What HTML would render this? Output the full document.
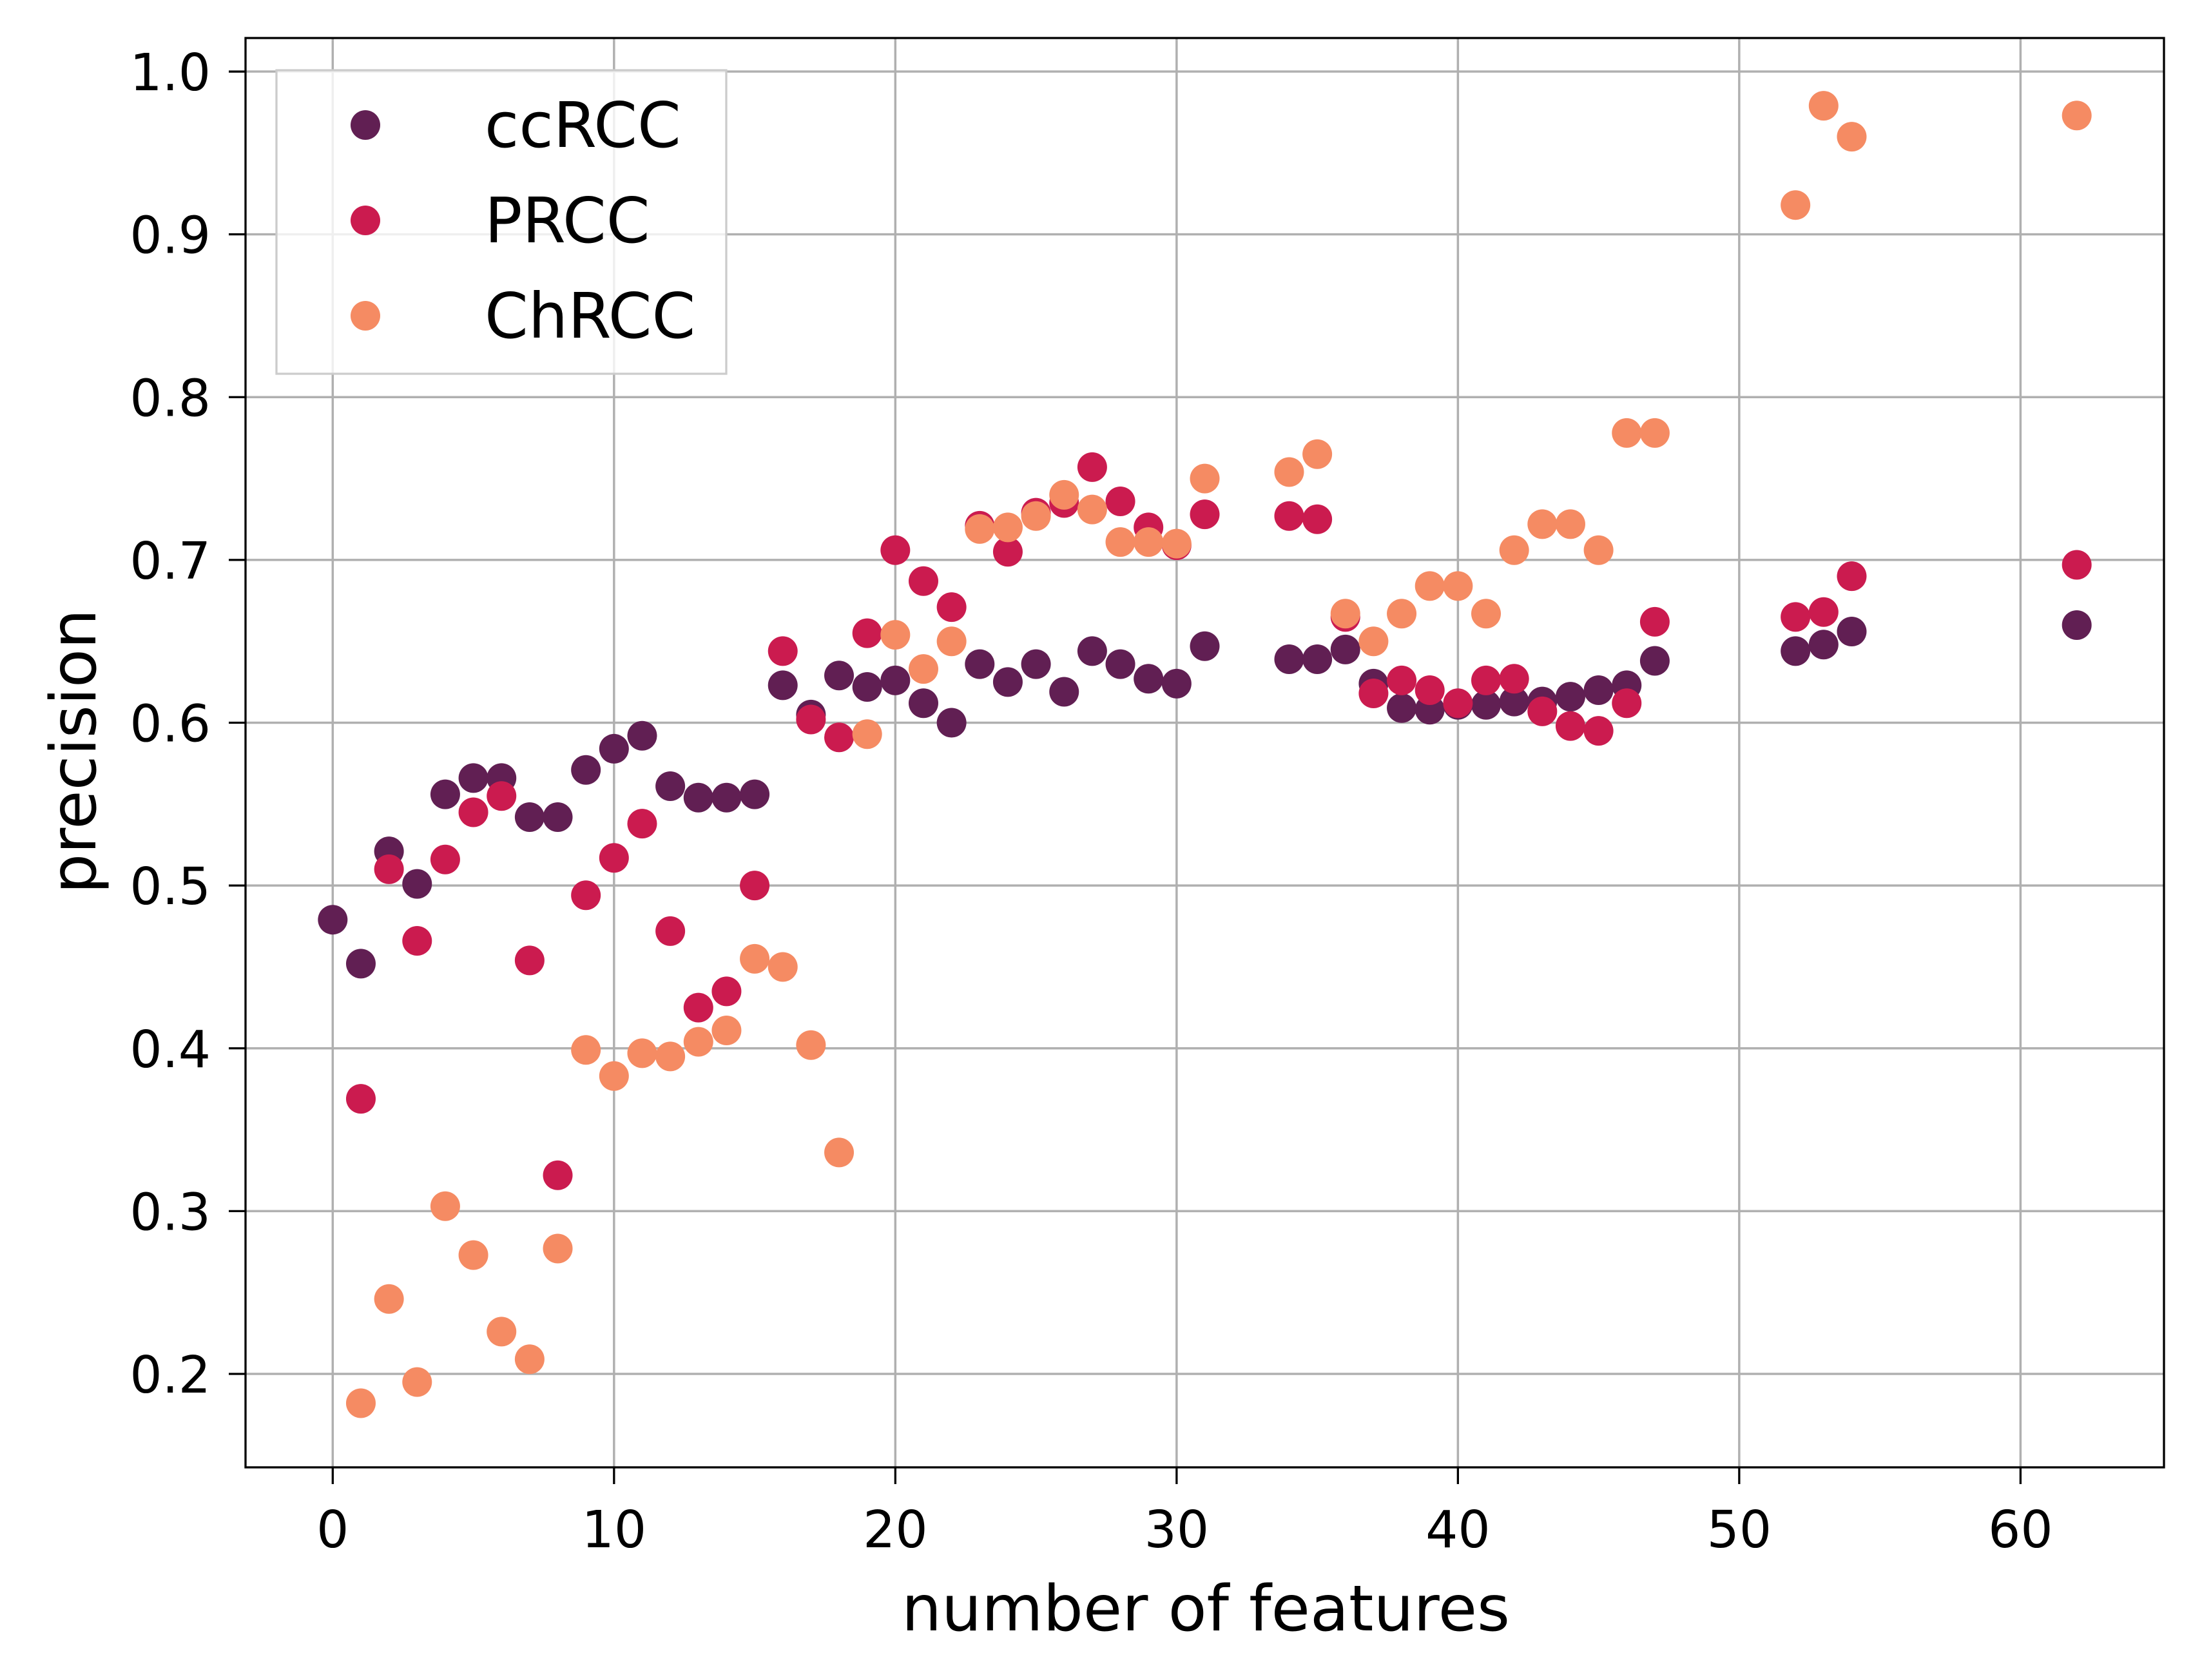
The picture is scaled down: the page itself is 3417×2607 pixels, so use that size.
<!DOCTYPE html>
<html><head><meta charset="utf-8"><style>
html,body{margin:0;padding:0;background:#fff}
svg{display:block;font-family:"DejaVu Sans","Liberation Sans",sans-serif}
</style></head><body>
<svg id="chart" width="3417" height="2607" viewBox="0 0 3417 2607" xmlns="http://www.w3.org/2000/svg">
<rect width="3417" height="2607" fill="#fff"/>
<g id="grid"></g>
<g id="marks"></g>
<rect x="381" y="59" width="2977" height="2218" fill="none" stroke="#000" stroke-width="3.3"/>
<g id="ticks"></g>
<text x="1871" y="2530" font-size="98" text-anchor="middle">number of features</text>
<text transform="translate(148,1166) rotate(-90)" font-size="98" text-anchor="middle">precision</text>
<g>
<rect x="429" y="109" width="698" height="471" fill="#fff" fill-opacity="0.8" stroke="#ccc" stroke-width="3.3"/>
<circle cx="567" cy="194" r="23" fill="#611f53"/>
<text x="752" y="228" font-size="97">ccRCC</text>
<circle cx="567" cy="342" r="23" fill="#cb1b4f"/>
<text x="752" y="376" font-size="97">PRCC</text>
<circle cx="567" cy="490" r="23" fill="#f58b63"/>
<text x="752" y="524" font-size="97">ChRCC</text>
</g>
</svg>
<script>
const xTicks=[0,10,20,30,40,50,60];
const yTicks=[0.2,0.3,0.4,0.5,0.6,0.7,0.8,0.9,1.0];
const yTickLabels=["0.2","0.3","0.4","0.5","0.6","0.7","0.8","0.9","1.0"];
const ccX=[0,1,2,3,4,5,6,7,8,9,10,11,12,13,14,15,16,17,18,19,20,21,22,23,24,25,26,27,28,29,30,31,34,35,36,37,38,39,40,41,42,43,44,45,46,47,52,53,54,62];
const ccY=[0.479,0.452,0.521,0.501,0.556,0.566,0.566,0.542,0.542,0.571,0.584,0.592,0.561,0.554,0.554,0.556,0.623,0.605,0.629,0.622,0.626,0.612,0.600,0.636,0.625,0.636,0.619,0.644,0.636,0.627,0.624,0.647,0.639,0.639,0.645,0.624,0.609,0.608,0.611,0.611,0.613,0.613,0.616,0.620,0.623,0.638,0.644,0.648,0.656,0.660];
const prX=[1,2,3,4,5,6,7,8,9,10,11,12,13,14,15,16,17,18,19,20,21,22,23,24,25,26,27,28,29,30,31,34,35,36,37,38,39,40,41,42,43,44,45,46,47,52,53,54,62];
const prY=[0.369,0.510,0.466,0.516,0.545,0.555,0.454,0.322,0.494,0.517,0.538,0.472,0.425,0.435,0.500,0.644,0.602,0.591,0.655,0.706,0.687,0.671,0.721,0.705,0.729,0.735,0.757,0.736,0.720,0.709,0.728,0.727,0.725,0.665,0.618,0.626,0.620,0.612,0.626,0.627,0.607,0.598,0.595,0.612,0.662,0.665,0.668,0.690,0.697];
const chX=[1,2,3,4,5,6,7,8,9,10,11,12,13,14,15,16,17,18,19,20,21,22,23,24,25,26,27,28,29,30,31,34,35,36,37,38,39,40,41,42,43,44,45,46,47,52,53,54,62];
const chY=[0.182,0.246,0.195,0.303,0.273,0.226,0.209,0.277,0.399,0.383,0.397,0.395,0.404,0.411,0.455,0.450,0.402,0.336,0.593,0.654,0.633,0.650,0.719,0.720,0.727,0.740,0.731,0.711,0.711,0.710,0.750,0.754,0.765,0.667,0.650,0.667,0.684,0.684,0.667,0.706,0.722,0.722,0.706,0.778,0.778,0.918,0.979,0.960,0.973];

const L=381,R=3358,T=59,B=2277,xmin=-3.1,xmax=65.1,ymin=0.1426,ymax=1.0206;
const sx=v=>L+(v-xmin)/(xmax-xmin)*(R-L);
const sy=v=>B-(v-ymin)/(ymax-ymin)*(B-T);
const NS="http://www.w3.org/2000/svg";
function mk(tag,parent,attrs){const e=document.createElementNS(NS,tag);for(const k in attrs)e.setAttribute(k,attrs[k]);parent.appendChild(e);return e;}
const grid=document.getElementById('grid'),ticks=document.getElementById('ticks'),marks=document.getElementById('marks');
xTicks.forEach(t=>{
  const x=sx(t);
  const g=mk('line',grid,{x1:x,x2:x,y1:T,y2:B,stroke:'#b0b0b0','stroke-width':3.5});
  
  
  const tk=mk('line',ticks,{x1:x,x2:x,y1:B,y2:B+26,stroke:'#000','stroke-width':3.3});
  
  
  const tx=mk('text',ticks,{x:x,y:2401,'font-size':79,'text-anchor':'middle'});
  tx.textContent=String(t);
  
  
});
yTicks.forEach((t,i)=>{
  const y=sy(t);
  const g=mk('line',grid,{x1:L,x2:R,y1:y,y2:y,stroke:'#b0b0b0','stroke-width':3.5});
  
  
  const tk=mk('line',ticks,{x1:L-26,x2:L,y1:y,y2:y,stroke:'#000','stroke-width':3.3});
  
  
  const tx=mk('text',ticks,{x:327,y:y+29,'font-size':79,'text-anchor':'end'});
  tx.textContent=yTickLabels[i];
  
  
});
function series(xs,ys,color,name){
  xs.forEach((x,i)=>{
    const c=mk('circle',marks,{cx:sx(x),cy:sy(ys[i]),r:23,fill:color});
    
    
  });
}
series(ccX,ccY,'#611f53','ccrcc');
series(prX,prY,'#cb1b4f','prcc');
series(chX,chY,'#f58b63','chrcc');
</script>
</body></html>
